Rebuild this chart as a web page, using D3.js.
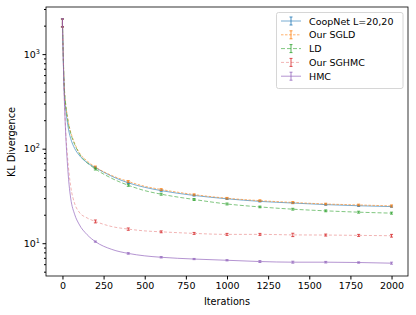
<!DOCTYPE html>
<html><head><meta charset="utf-8">
<script src="https://cdn.jsdelivr.net/npm/d3@7"></script>
<style>body{margin:0;background:#fff}svg{display:block}text{font-family:"DejaVu Sans",sans-serif;fill:#000}</style>
</head><body><svg id="c" width="416" height="315"></svg>
<script>
const iterations = [0,10,20,30,40,50,75,100,150,200,300,400,500,600,800,1000,1200,1400,1600,1800,2000];
const coopnet = [2150,450,260,190,150,128,100,86,71,63,51,43.5,39,36,32,29.5,27.7,26.6,25.6,24.9,24.4];
const sgld    = [2150,500,290,220,175,150,113,92,74,64,52,45,40,37,32.7,29.9,28.2,27,26,25.4,24.8];
const ld      = [2150,500,290,215,170,145,110,90,71,61,48.5,41,36,33,29,26,24.2,22.9,22,21.3,20.8];
const sghmc   = [2150,420,150,85,55,40,26,21.5,18.5,17,15,14.1,13.5,13.2,12.7,12.4,12.4,12.25,12.2,12.1,12.0];
const hmc     = [2150,400,140,70,42,30,20,16,12.3,10.4,8.6,7.8,7.35,7.1,6.8,6.6,6.4,6.3,6.3,6.25,6.15];
const errIters = [0,200,400,600,800,1000,1200,1400,1600,1800,2000];
const coopnetErr = [200,1.2,0.8,0.6,0.5,0.5,0.4,0.4,0.4,0.4,0.4];
const sgldErr    = [220,1.5,1.0,0.8,0.6,0.6,0.6,0.6,0.5,0.5,0.6];
const ldErr      = [210,1.5,1.0,0.8,0.7,0.6,0.5,0.5,0.5,0.5,0.5];
const sghmcErr   = [200,0.6,0.4,0.3,0.3,0.3,0.3,0.5,0.3,0.3,0.4];
const hmcErr     = [220,0.15,0.15,0.12,0.1,0.1,0.15,0.15,0.12,0.1,0.15];
const names = ["CoopNet L=20,20","Our SGLD","LD","Our SGHMC","HMC"];
const colors = ["#1f77b4","#ff7f0e","#2ca02c","#d62728","#9467bd"];
const dashes = [null,"2.5,1.5","4,2","3,2",null];
const lineAlpha = [0.6,0.6,0.6,0.35,0.7];
const xTicks = [0,250,500,750,1000,1250,1500,1750,2000];
const yMajor = [10,100,1000];

const series = [coopnet,sgld,ld,sghmc,hmc];
const errs = [coopnetErr,sgldErr,ldErr,sghmcErr,hmcErr];

const svg = d3.select("#c");
const L=46,R=408,T=7,B=276;
const x = d3.scaleLinear().domain([-100,2100]).range([L,R]);
const y = d3.scaleLog().domain([4.5,3150]).range([B,T]);

svg.append("clipPath").attr("id","cp").append("rect").attr("x",L).attr("y",T).attr("width",R-L).attr("height",B-T);
const plot = svg.append("g").attr("clip-path","url(#cp)");

const line = d3.line().x((d,i)=>x(iterations[i])).y(d=>y(d)).curve(d3.curveMonotoneX);
series.forEach((s,k)=>{
  plot.append("path").attr("d",line(s)).attr("fill","none").attr("stroke",colors[k])
    .attr("stroke-width",1).attr("stroke-opacity",lineAlpha[k]).attr("stroke-dasharray",dashes[k]);
});
series.forEach((s,k)=>{
  const gg = plot.append("g").attr("stroke",colors[k]).attr("stroke-width",1).attr("stroke-opacity",0.8);
  errIters.forEach((it,j)=>{
    const v = s[iterations.indexOf(it)], e = errs[k][j];
    const xx = x(it), y1 = y(v+e), y2 = y(v-e);
    gg.append("line").attr("x1",xx).attr("x2",xx).attr("y1",y1).attr("y2",y2);
    gg.append("line").attr("x1",xx-1.5).attr("x2",xx+1.5).attr("y1",y1).attr("y2",y1);
    gg.append("line").attr("x1",xx-1.5).attr("x2",xx+1.5).attr("y1",y2).attr("y2",y2);
  });
});

// axes
const xa = svg.append("g").attr("transform",`translate(0,${B})`)
  .call(d3.axisBottom(x).tickValues(xTicks).tickSize(3.5).tickPadding(3).tickFormat(d3.format("d")));
xa.select(".domain").remove();
xa.selectAll("text").attr("font-size",9.5);
const ya = svg.append("g").attr("transform",`translate(${L},0)`)
  .call(d3.axisLeft(y).tickValues(yMajor).tickSize(3.5).tickFormat(""));
ya.select(".domain").remove();
const minors=[];
[1,10,100,1000].forEach(b=>{for(let m=2;m<=9;m++){const v=b*m; if(v>=4.5&&v<=3150) minors.push(v);}});
svg.append("g").attr("transform",`translate(${L},0)`)
  .call(d3.axisLeft(y).tickValues(minors).tickSize(2).tickFormat("")).select(".domain").remove();
yMajor.forEach(v=>{
  const t = svg.append("text").attr("x",L-6).attr("y",y(v)+3.5).attr("text-anchor","end").attr("font-size",9.5);
  t.append("tspan").text("10");
  t.append("tspan").attr("font-size",6.5).attr("dy",-4).text(Math.round(Math.log10(v)));
});
svg.append("rect").attr("x",L).attr("y",T).attr("width",R-L).attr("height",B-T)
  .attr("fill","none").attr("stroke","#000").attr("stroke-width",0.8);

svg.append("text").attr("x",227).attr("y",305).attr("text-anchor","middle").attr("font-size",9.7).text("Iterations");
svg.append("text").attr("transform","translate(15,142) rotate(-90)").attr("text-anchor","middle").attr("font-size",9.7).text("KL Divergence");

// legend
const lg = svg.append("g");
lg.append("rect").attr("x",276.5).attr("y",12.5).attr("width",126.5).attr("height",76).attr("rx",2)
  .attr("fill","#fff").attr("fill-opacity",0.8).attr("stroke","#ccc").attr("stroke-width",0.8);
names.forEach((n,k)=>{
  const yy = 21 + k*13.8;
  const it = lg.append("g").attr("stroke",colors[k]).attr("stroke-width",1);
  it.append("line").attr("x1",281).attr("x2",301).attr("y1",yy).attr("y2",yy).attr("stroke-opacity",lineAlpha[k]).attr("stroke-dasharray",dashes[k]);
  const eb = it.append("g").attr("stroke-opacity",0.8);
  eb.append("line").attr("x1",291).attr("x2",291).attr("y1",yy-4).attr("y2",yy+4);
  eb.append("line").attr("x1",289.5).attr("x2",292.5).attr("y1",yy-4).attr("y2",yy-4);
  eb.append("line").attr("x1",289.5).attr("x2",292.5).attr("y1",yy+4).attr("y2",yy+4);
  lg.append("text").attr("x",309).attr("y",yy+3.5).attr("font-size",9.5).text(n);
});
</script></body></html>
